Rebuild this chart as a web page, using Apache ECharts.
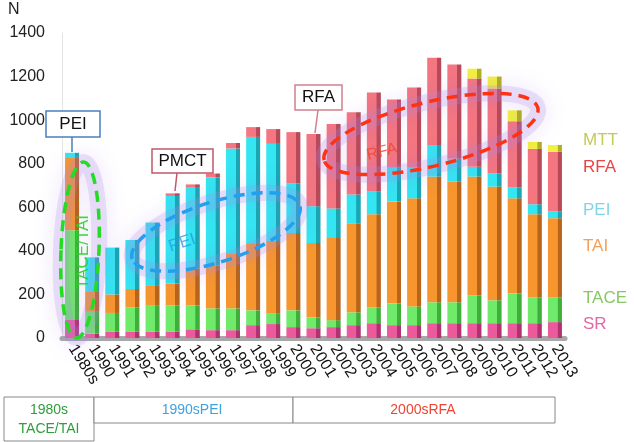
<!DOCTYPE html>
<html><head><meta charset="utf-8">
<script src="https://cdn.jsdelivr.net/npm/echarts@6/dist/echarts.min.js"></script>
<style>html,body{margin:0;padding:0;background:#fff}#c{width:634px;height:442px}</style>
</head><body><div id="c"></div>
<script>
var categories = ['1980s','1990','1991','1992','1993','1994','1995','1996','1997','1998','1999','2000','2001','2002','2003','2004','2005','2006','2007','2008','2009','2010','2011','2012','2013'];
var SR   = [83, 20, 30, 30, 30, 30, 40, 36, 36, 59, 64, 50, 45, 50, 59, 68, 59, 59, 68, 68, 68, 68, 68, 68, 73];
var TACE = [412, 100, 85, 110, 118, 120, 110, 100, 100, 68, 50, 77, 50, 32, 59, 73, 100, 86, 96, 96, 127, 105, 137, 118, 113];
var TAI  = [331, 95, 85, 85, 91, 100, 170, 196, 250, 305, 331, 355, 341, 377, 409, 427, 468, 496, 577, 554, 546, 522, 436, 382, 364];
var PEI  = [24, 155, 215, 225, 291, 402, 373, 405, 484, 491, 446, 227, 169, 136, 132, 105, 155, 141, 145, 105, 45, 60, 50, 46, 32];
var RFA  = [0, 0, 0, 0, 0, 12, 12, 18, 25, 45, 68, 236, 331, 387, 377, 454, 313, 368, 400, 432, 405, 390, 304, 254, 273];
var MTT  = [0, 0, 0, 0, 0, 0, 0, 0, 0, 0, 0, 0, 0, 0, 0, 0, 0, 0, 0, 0, 45, 55, 50, 32, 31];
var yTicks = [0, 200, 400, 600, 800, 1000, 1200, 1400];

var chart = echarts.init(document.getElementById('c'), null, {renderer:'canvas'});
function grad(light, dark){
  return new echarts.graphic.LinearGradient(0,0,1,0,[
    {offset:0, color:light},{offset:0.68, color:light},
    {offset:0.70, color:dark},{offset:1, color:dark}]);
}
function ser(name, data, light, dark){
  return {name:name, type:'bar', stack:'s', data:data, barWidth:14,
    itemStyle:{color:grad(light,dark)}, emphasis:{disabled:true}};
}
function halo(x, y, rot, rx, ry){
  return {type:'ellipse', x:x, y:y, rotation:rot, shape:{cx:0, cy:0, rx:rx, ry:ry}, z:9, silent:true,
    style:{fill:null, stroke:'rgba(175,135,230,0.22)', lineWidth:16, shadowColor:'rgba(150,100,225,0.75)', shadowBlur:22}};
}
function ring(x, y, rot, rx, ry, color){
  return {type:'ellipse', x:x, y:y, rotation:rot, shape:{cx:0, cy:0, rx:rx, ry:ry}, z:10, silent:true,
    style:{fill:null, stroke:color, lineWidth:3.5, lineDash:[11,7]}};
}
var option = {
  backgroundColor:'#fff',
  animation:false,
  grid:{left:62, right:69, top:33, bottom:104},
  xAxis:{type:'category', data:categories,
    axisLine:{lineStyle:{color:'#a8a8a8', width:5}},
    axisTick:{show:false},
    axisLabel:{interval:0, rotate:-58, fontSize:16, color:'#111', margin:8, fontFamily:'Liberation Sans'}},
  yAxis:{type:'value', min:0, max:1400, interval:200,
    splitLine:{show:false},
    axisLine:{show:true, lineStyle:{color:'#e4e4e4'}},
    axisTick:{show:false},
    axisLabel:{fontSize:16, color:'#222', margin:17, fontFamily:'Liberation Sans',
      formatter:function(v){return yTicks.indexOf(v)>=0 ? String(v) : '';}}},
  series:[
    ser('SR', SR, '#ea5a9c', '#b03272'),
    ser('TACE', TACE, '#6fea6a', '#3faf3c'),
    ser('TAI', TAI, '#f7962e', '#b8641a'),
    ser('PEI', PEI, '#34e6f2', '#1aa6b2'),
    ser('RFA', RFA, '#f47680', '#b84a58'),
    ser('MTT', MTT, '#f2f040', '#b0b020')
  ],
  graphic:{elements:[
    {type:'text', left:8, top:2, style:{text:'N', font:'16px Liberation Sans', fill:'#222'}},
    // legend-like labels
    {type:'text', x:583, y:140, style:{text:'MTT', font:'17px Liberation Sans', fill:'#c8c85a', verticalAlign:'middle'}},
    {type:'text', x:583, y:167, style:{text:'RFA', font:'17px Liberation Sans', fill:'#e84444', verticalAlign:'middle'}},
    {type:'text', x:583, y:210, style:{text:'PEI', font:'17px Liberation Sans', fill:'#80d6e6', verticalAlign:'middle'}},
    {type:'text', x:583, y:246, style:{text:'TAI', font:'17px Liberation Sans', fill:'#f5a055', verticalAlign:'middle'}},
    {type:'text', x:583, y:298, style:{text:'TACE', font:'17px Liberation Sans', fill:'#86c864', verticalAlign:'middle'}},
    {type:'text', x:583, y:324, style:{text:'SR', font:'17px Liberation Sans', fill:'#e466a6', verticalAlign:'middle'}},
    // ellipses with purple halo
    halo(80, 250, -0.04, 19, 88),
    ring(80, 250, -0.04, 19, 88, '#22dd22'),
    {type:'text', x:83, y:252, rotation:Math.PI/2, z:11,
      style:{text:'TACE/TAI', font:'17px Liberation Sans', fill:'rgba(40,210,40,0.9)', align:'center', verticalAlign:'middle'}},
    halo(216, 232, 0.31, 88, 30),
    ring(216, 232, 0.31, 88, 30, '#22a0f0'),
    {type:'text', x:182, y:243, rotation:0.31, z:11,
      style:{text:'PEI', font:'17px Liberation Sans', fill:'rgba(40,150,230,0.75)', align:'center', verticalAlign:'middle'}},
    halo(431, 134, 0.24, 110, 32),
    ring(431, 134, 0.24, 110, 32, '#ff3312'),
    {type:'text', x:382, y:152, rotation:0.24, z:11,
      style:{text:'RFA', font:'16px Liberation Sans', fill:'rgba(240,70,50,0.85)', align:'center', verticalAlign:'middle'}},
    // callout boxes
    {type:'line', shape:{x1:72, y1:137, x2:72, y2:152}, z:12, style:{stroke:'#4a7fc0', lineWidth:1.5}},
    {type:'rect', shape:{x:46, y:111, width:54, height:26}, z:12, style:{fill:'#fff', stroke:'#4a7fc0', lineWidth:1.5}},
    {type:'text', x:73, y:124, z:13, style:{text:'PEI', font:'17px Liberation Sans', fill:'#111', align:'center', verticalAlign:'middle'}},
    {type:'line', shape:{x1:177, y1:173, x2:175, y2:191}, z:12, style:{stroke:'#c05868', lineWidth:1.5}},
    {type:'rect', shape:{x:152, y:149, width:61, height:24}, z:12, style:{fill:'#fff', stroke:'#c05868', lineWidth:1.5}},
    {type:'text', x:182.5, y:161, z:13, style:{text:'PMCT', font:'17px Liberation Sans', fill:'#111', align:'center', verticalAlign:'middle'}},
    {type:'line', shape:{x1:318, y1:110, x2:315, y2:133}, z:12, style:{stroke:'#d08090', lineWidth:1.5}},
    {type:'rect', shape:{x:295, y:85, width:47, height:25}, z:12, style:{fill:'#fff', stroke:'#d08090', lineWidth:1.5}},
    {type:'text', x:318.5, y:97.5, z:13, style:{text:'RFA', font:'17px Liberation Sans', fill:'#111', align:'center', verticalAlign:'middle'}},
    // bottom era boxes
    {type:'rect', shape:{x:4, y:397, width:90, height:44}, style:{fill:'#fff', stroke:'#888', lineWidth:1}},
    {type:'rect', shape:{x:94, y:397, width:199, height:26}, style:{fill:'#fff', stroke:'#888', lineWidth:1}},
    {type:'rect', shape:{x:293, y:397, width:262, height:26}, style:{fill:'#fff', stroke:'#888', lineWidth:1}},
    {type:'text', x:49, y:410, style:{text:'1980s', font:'14px Liberation Sans', fill:'#2e9e3a', align:'center', verticalAlign:'middle'}},
    {type:'text', x:49, y:429, style:{text:'TACE/TAI', font:'14px Liberation Sans', fill:'#2e9e3a', align:'center', verticalAlign:'middle'}},
    {type:'text', x:192, y:410, style:{text:'1990sPEI', font:'14px Liberation Sans', fill:'#3ea2e0', align:'center', verticalAlign:'middle'}},
    {type:'text', x:423, y:410, style:{text:'2000sRFA', font:'14px Liberation Sans', fill:'#ee4433', align:'center', verticalAlign:'middle'}}
  ]}
};
chart.setOption(option);
</script></body></html>
